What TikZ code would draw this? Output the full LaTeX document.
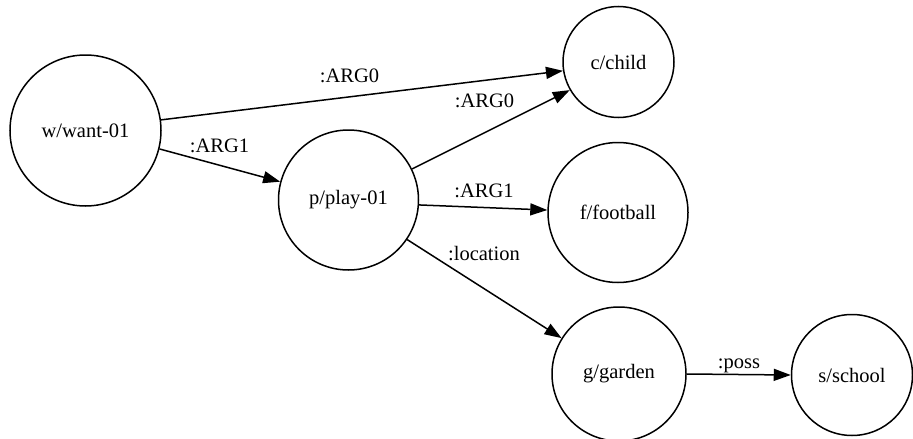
\documentclass[tikz,border=0pt]{standalone}
\usepackage{fontspec}
\setmainfont{Liberation Serif}
\usetikzlibrary{arrows.meta}
\begin{document}
\begin{tikzpicture}[x=1pt,y=-1pt,
  concept/.style={draw, circle, line width=1.5pt, inner sep=0pt, font=\fontsize{20.5}{24}\selectfont},
  rel/.style={line width=1.5pt, -{Triangle[length=17pt,width=12pt]}},
  lbl/.style={font=\fontsize{20.5}{24}\selectfont, inner sep=0pt}]
\useasboundingbox (0,0) rectangle (913,439);
% concepts
\node[concept, minimum size=151pt] (w) at (85.5,130.5) {w/want-01};
\node[concept, minimum size=140pt] (p) at (348.5,200) {p/play-01};
\node[concept, minimum size=111pt] (c) at (618.5,62) {c/child};
\node[concept, minimum size=140pt] (f) at (618,212.5) {f/football};
\node[concept, minimum size=134pt] (g) at (619,374) {g/garden};
\node[concept, minimum size=121pt] (s) at (852,375) {s/school};
% relations
\draw[rel] (w.8) -- (c.189);
\draw[rel] (w.-14) -- (p.165);
\draw[rel] (p.26) -- (c.210);
\draw[rel] (p.-4) -- (f.178);
\draw[rel] (p.-34) -- (g.148);
\draw[rel] (g.0) -- (s.180);
% relation labels
\node[lbl] (l1) at (349.5,76) {:ARG0};
\node[lbl] (l2) at (219.5,146) {:ARG1};
\node[lbl] (l3) at (484.5,101) {:ARG0};
\node[lbl] (l4) at (484,191) {:ARG1};
\node[lbl] (l5) at (484,254) {:location};
\node[lbl] (l6) at (739,366) {:poss};
\end{tikzpicture}
\end{document}
